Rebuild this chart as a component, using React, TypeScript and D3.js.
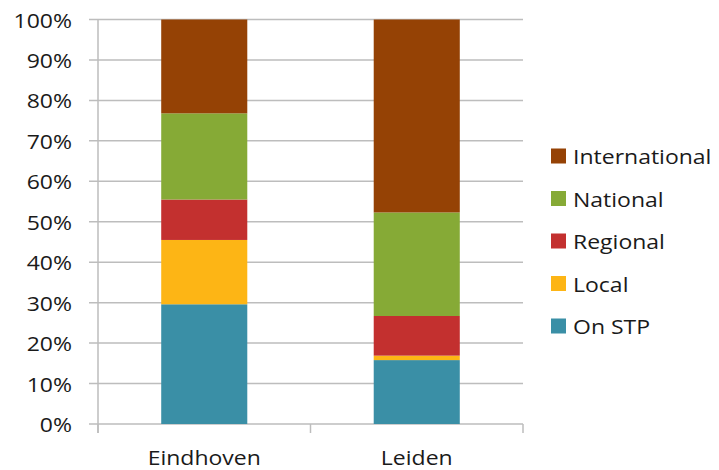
import React from 'react';
import * as d3 from 'd3';

const categories = ['Eindhoven', 'Leiden'];
const seriesNames = ['On STP', 'Local', 'Regional', 'National', 'International'];
const onStp = [29.6, 15.8];
const local = [15.9, 1.1];
const regional = [10.0, 9.8];
const national = [21.3, 25.6];
const international = [23.2, 47.7];
const yTicks = [0, 10, 20, 30, 40, 50, 60, 70, 80, 90, 100];
const colors = ['#3a8fa6', '#fdb515', '#c3302f', '#86aa36', '#954205'];

const W = 719;
const H = 470;
const margin = { left: 98, right: 196, top: 19.5, bottom: 46 };
const FONT = '"Open Sans", Lato, sans-serif';
const FS = 20;
const SX = 1.15;

const App = () => {
  const x = d3
    .scaleBand()
    .domain(categories)
    .range([margin.left, W - margin.right])
    .paddingInner(0.595)
    .paddingOuter(0.2975);
  const y = d3.scaleLinear().domain([0, 100]).range([H - margin.bottom, margin.top]);

  const rows = categories.map((c, i) => ({
    cat: c,
    'On STP': onStp[i],
    Local: local[i],
    Regional: regional[i],
    National: national[i],
    International: international[i],
  }));
  const stacked = d3.stack<any>().keys(seriesNames)(rows);

  const x0 = margin.left;
  const x1 = W - margin.right;
  const y0 = y(0);
  const step = x.step();

  return (
    <svg width={W} height={H} style={{ position: 'absolute', left: 0, top: 0 }}>
      <rect width={W} height={H} fill="#fff" />
      {yTicks.map((t) => (
        <g key={t}>
          <line x1={x0 - 9} x2={x1} y1={y(t)} y2={y(t)} stroke="#bdbdbd" strokeWidth={1.5} />
          <text
            transform={`translate(${x0 - 26},${y(t) + 8}) scale(${SX},1)`}
            textAnchor="end"
            fontFamily={FONT}
            fontSize={FS}
            fill="#1a1a1a"
          >
            {t}%
          </text>
        </g>
      ))}
      <line x1={x0} x2={x0} y1={margin.top} y2={y0 + 9} stroke="#bdbdbd" strokeWidth={1.5} />
      {[0, 1, 2].map((i) => (
        <line key={i} x1={x0 + i * step} x2={x0 + i * step} y1={y0} y2={y0 + 9} stroke="#bdbdbd" strokeWidth={1.5} />
      ))}
      {stacked.map((s, si) => (
        <g key={s.key} fill={colors[si]}>
          {s.map((d: any) => (
            <rect
              key={d.data.cat}
              x={x(d.data.cat)}
              width={x.bandwidth()}
              y={y(d[1])}
              height={y(d[0]) - y(d[1])}
            />
          ))}
        </g>
      ))}
      {categories.map((c) => (
        <text
          key={c}
          transform={`translate(${(x(c) as number) + x.bandwidth() / 2},${H - 5}) scale(${SX},1)`}
          textAnchor="middle"
          fontFamily={FONT}
          fontSize={FS}
          fill="#1a1a1a"
        >
          {c}
        </text>
      ))}
      {seriesNames
        .slice()
        .reverse()
        .map((name, i) => {
          const cy = 156 + i * 42.5;
          const ci = seriesNames.indexOf(name);
          return (
            <g key={name}>
              <rect x={551} y={cy - 7.5} width={15} height={15} fill={colors[ci]} />
              <text
                transform={`translate(573,${cy + 8}) scale(${SX},1)`}
                fontFamily={FONT}
                fontSize={FS}
                fill="#1a1a1a"
              >
                {name}
              </text>
            </g>
          );
        })}
    </svg>
  );
};

export default App;
